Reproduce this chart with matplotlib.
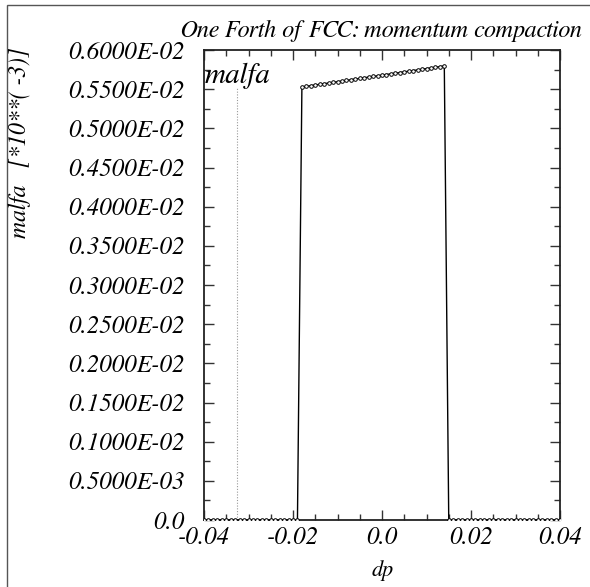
import matplotlib
matplotlib.use("Agg")
import matplotlib.pyplot as plt
from matplotlib.patches import Rectangle
from matplotlib.ticker import FixedLocator, FixedFormatter, MultipleLocator

# momentum deviation grid
dp = [
    -0.040, -0.039, -0.038, -0.037, -0.036, -0.035, -0.034, -0.033, -0.032, -0.031,
    -0.030, -0.029, -0.028, -0.027, -0.026, -0.025, -0.024, -0.023, -0.022, -0.021,
    -0.020, -0.019, -0.018, -0.017, -0.016, -0.015, -0.014, -0.013, -0.012, -0.011,
    -0.010, -0.009, -0.008, -0.007, -0.006, -0.005, -0.004, -0.003, -0.002, -0.001,
    0.000, 0.001, 0.002, 0.003, 0.004, 0.005, 0.006, 0.007, 0.008, 0.009,
    0.010, 0.011, 0.012, 0.013, 0.014, 0.015, 0.016, 0.017, 0.018, 0.019,
    0.020, 0.021, 0.022, 0.023, 0.024, 0.025, 0.026, 0.027, 0.028, 0.029,
    0.030, 0.031, 0.032, 0.033, 0.034, 0.035, 0.036, 0.037, 0.038, 0.039,
    0.040,
]

# momentum compaction (zero where the particle is lost)
malfa = [
    0.0, 0.0, 0.0, 0.0, 0.0, 0.0, 0.0, 0.0, 0.0, 0.0,
    0.0, 0.0, 0.0, 0.0, 0.0, 0.0, 0.0, 0.0, 0.0, 0.0,
    0.0, 0.0,
    0.005528, 0.005536, 0.005545, 0.005553, 0.005562, 0.005570, 0.005578, 0.005587,
    0.005595, 0.005603, 0.005612, 0.005620, 0.005629, 0.005637, 0.005645, 0.005654,
    0.005662, 0.005670, 0.005679, 0.005687, 0.005696, 0.005704, 0.005712, 0.005721,
    0.005729, 0.005737, 0.005746, 0.005754, 0.005763, 0.005771, 0.005779, 0.005788,
    0.005796,
    0.0, 0.0, 0.0, 0.0, 0.0, 0.0, 0.0, 0.0, 0.0, 0.0,
    0.0, 0.0, 0.0, 0.0, 0.0, 0.0, 0.0, 0.0, 0.0, 0.0,
    0.0, 0.0, 0.0, 0.0, 0.0, 0.0,
]

# reference marker line
marker_dp = -0.0326
marker_top = 0.005528

xticks = [-0.04, -0.02, 0.0, 0.02, 0.04]
xtick_labels = ["-0.04", "-0.02", "0.0", "0.02", "0.04"]
yticks = [0.0, 0.0005, 0.0010, 0.0015, 0.0020, 0.0025, 0.0030,
          0.0035, 0.0040, 0.0045, 0.0050, 0.0055, 0.0060]
ytick_labels = ["0.0", "0.5000E-03", "0.1000E-02", "0.1500E-02", "0.2000E-02",
                "0.2500E-02", "0.3000E-02", "0.3500E-02", "0.4000E-02",
                "0.4500E-02", "0.5000E-02", "0.5500E-02", "0.6000E-02"]

plt.rcParams["font.family"] = ["FreeSerif", "Liberation Serif", "DejaVu Serif"]
plt.rcParams["font.style"] = "italic"

W, H = 590, 587
fig = plt.figure(figsize=(W / 100, H / 100), dpi=100)
ax = fig.add_axes([204 / W, 1 - 520 / H, (560 - 204) / W, (520 - 50) / H])

ax.plot(dp, malfa, color="black", lw=1.0, marker="o", ms=2.6,
        mfc="white", mec="black", mew=0.7, zorder=3)
ax.plot([marker_dp, marker_dp], [0, marker_top], color="#999999",
        lw=0.8, ls=(0, (1, 1.5)), zorder=2)

ax.set_xlim(-0.04, 0.04)
ax.set_ylim(0.0, 0.006)

ax.xaxis.set_major_locator(FixedLocator(xticks))
ax.xaxis.set_major_formatter(FixedFormatter(xtick_labels))
ax.xaxis.set_minor_locator(MultipleLocator(0.005))
ax.yaxis.set_major_locator(FixedLocator(yticks))
ax.yaxis.set_major_formatter(FixedFormatter(ytick_labels))
ax.yaxis.set_minor_locator(MultipleLocator(0.00025))

ax.tick_params(which="both", direction="in", top=True, right=True,
               width=1.0, color="#333333")
ax.tick_params(which="major", length=7)
ax.tick_params(which="minor", length=4)
ax.tick_params(axis="y", which="major", labelsize=18, pad=14)
ax.tick_params(axis="x", which="major", labelsize=18, pad=5)
for lab in ax.get_xticklabels() + ax.get_yticklabels():
    lab.set_fontstyle("italic")

for s in ax.spines.values():
    s.set_linewidth(1.3)
    s.set_color("#222222")

ax.text(0.002, 0.945, "malfa", transform=ax.transAxes, fontsize=21,
        style="italic", ha="left", va="center")

fig.text(582 / W, 1 - 31 / H, "One Forth of FCC: momentum compaction",
         fontsize=17.5, style="italic", ha="right", va="center")
fig.text(382 / W, 1 - 571 / H, "dp", fontsize=16, style="italic",
         ha="center", va="center")
fig.text(20 / W, 1 - 143 / H, "malfa   [*10**( -3)]", fontsize=17,
         style="italic", rotation=90, ha="center", va="center")

# outer frame
fig.patches.append(Rectangle((7 / W, -0.1), 1.2, 1 - 5 / H + 0.1,
                             transform=fig.transFigure, fill=False,
                             edgecolor="#555555", lw=1.0))

fig.savefig("out.png", dpi=100)
